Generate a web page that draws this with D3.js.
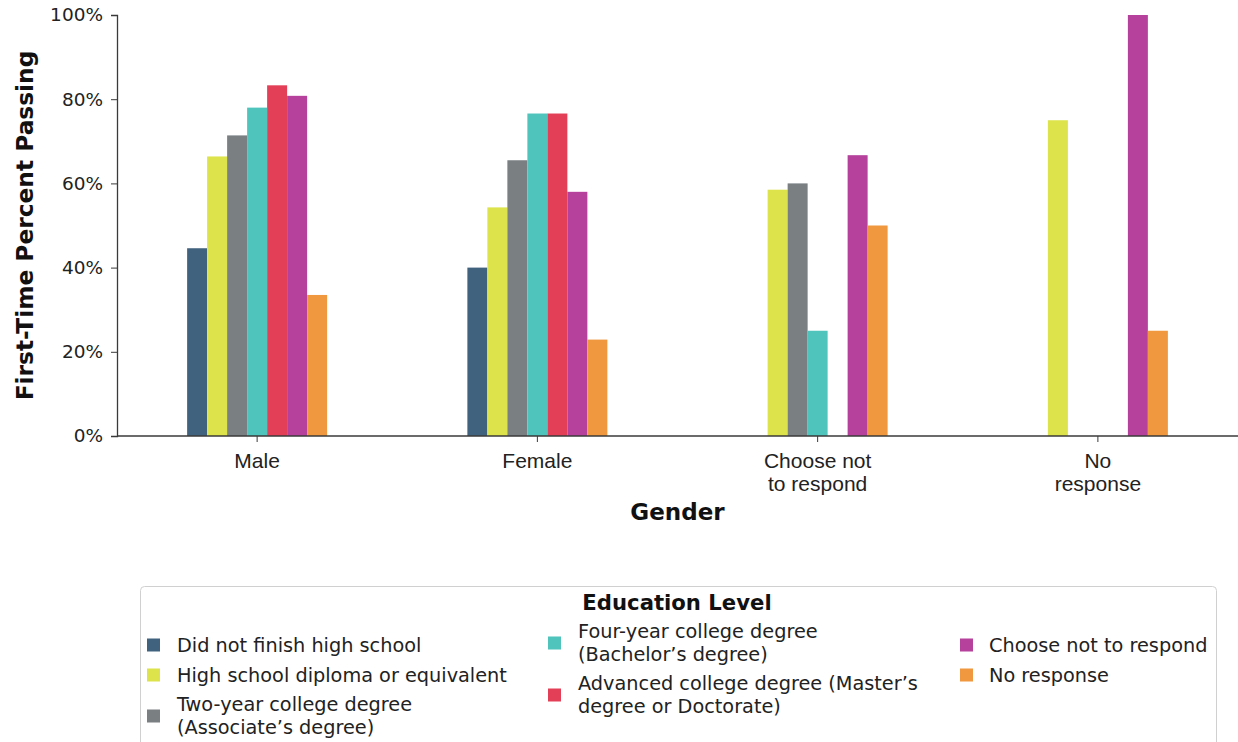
<!DOCTYPE html>
<html>
<head>
<meta charset="utf-8">
<script src="https://cdn.jsdelivr.net/npm/d3@7"></script>
<style>
  html, body { margin: 0; padding: 0; background: #ffffff; }
  svg { display: block; font-family: "DejaVu Sans", sans-serif; }
</style>
</head>
<body>
<svg id="chart" width="1238" height="742"></svg>
<script>
// ---- Data ----
const categories = ["Male", "Female", "Choose not to respond", "No response"];
const categoryLabels = [["Male"], ["Female"], ["Choose not", "to respond"], ["No", "response"]];
const seriesNames = [
  "Did not finish high school",
  "High school diploma or equivalent",
  "Two-year college degree (Associate’s degree)",
  "Four-year college degree (Bachelor’s degree)",
  "Advanced college degree (Master’s degree or Doctorate)",
  "Choose not to respond",
  "No response"
];
const didNotFinish   = [44.6, 40.0, null, null];
const highSchool     = [66.4, 54.3, 58.5, 75.0];
const twoYear        = [71.4, 65.5, 60.0, null];
const fourYear       = [78.0, 76.6, 25.0, null];
const advanced       = [83.3, 76.6, null, null];
const chooseNot      = [80.8, 58.0, 66.7, 100.0];
const noResponse     = [33.5, 22.9, 50.0, 25.0];
const seriesValues = [didNotFinish, highSchool, twoYear, fourYear, advanced, chooseNot, noResponse];
const yTicks = [0, 20, 40, 60, 80, 100];
const legendLines = [
  ["Did not finish high school"],
  ["High school diploma or equivalent"],
  ["Two-year college degree", "(Associate’s degree)"],
  ["Four-year college degree", "(Bachelor’s degree)"],
  ["Advanced college degree (Master’s", "degree or Doctorate)"],
  ["Choose not to respond"],
  ["No response"]
];
const colors = ["#41627f", "#dde34b", "#7a7f82", "#4ec4bc", "#e34058", "#b6419c", "#f0983f"];

// ---- Layout ----
const svg = d3.select("#chart");
const plotLeft = 117, plotRight = 1238, plotTop = 15, plotBottom = 436;
const axisColor = "#3a3a3a";

const x0 = d3.scaleBand().domain(categories).range([plotLeft, plotRight]).padding(0);
const groupWidth = 140;
const x1 = d3.scaleBand().domain(seriesNames).range([-groupWidth / 2, groupWidth / 2]).padding(0);
const y = d3.scaleLinear().domain([0, 100]).range([plotBottom, plotTop]);
const color = d3.scaleOrdinal().domain(seriesNames).range(colors);

// Bars
const barData = [];
seriesNames.forEach((s, si) => {
  categories.forEach((c, ci) => {
    const v = seriesValues[si][ci];
    if (v !== null) barData.push({ s, c, v });
  });
});
svg.append("g").selectAll("rect").data(barData).join("rect")
  .attr("x", d => x0(d.c) + x0.bandwidth() / 2 + x1(d.s))
  .attr("width", x1.bandwidth())
  .attr("y", d => y(d.v))
  .attr("height", d => y(0) - y(d.v))
  .attr("fill", d => color(d.s));

// Y axis
const yAxis = d3.axisLeft(y).tickValues(yTicks).tickFormat(d => d + "%").tickSize(6).tickPadding(8);
const gy = svg.append("g").attr("transform", `translate(${plotLeft},0)`).call(yAxis);
gy.select(".domain").attr("stroke", axisColor).attr("stroke-width", 1.3);
gy.selectAll(".tick line").attr("stroke", axisColor);
gy.selectAll(".tick text").attr("fill", "#222").style("font-size", "18.5px").style("font-family", "DejaVu Sans");

// X axis
const xAxis = d3.axisBottom(x0).tickSize(6).tickFormat("");
const gx = svg.append("g").attr("transform", `translate(0,${plotBottom})`).call(xAxis);
gx.select(".domain").attr("stroke", axisColor).attr("stroke-width", 1.3).attr("d", `M${plotLeft},0H${plotRight}`);
gx.selectAll(".tick line").attr("stroke", axisColor);
gx.selectAll(".tick").each(function(d, i) {
  const t = d3.select(this).append("text")
    .attr("fill", "#222")
    .attr("text-anchor", "middle")
    .style("font-size", "21px");
  categoryLabels[i].forEach((line, li) => {
    t.append("tspan").attr("x", 0).attr("y", 31.5 + li * 23).text(line);
  });
});

// Axis titles
svg.append("text")
  .attr("transform", `translate(33,${(plotTop + plotBottom) / 2}) rotate(-90)`)
  .attr("text-anchor", "middle")
  .style("font-size", "23.3px").style("font-weight", "bold").attr("fill", "#111")
  .text("First-Time Percent Passing");
svg.append("text")
  .attr("x", (plotLeft + plotRight) / 2).attr("y", 520)
  .attr("text-anchor", "middle")
  .style("font-size", "23px").style("font-weight", "bold").attr("fill", "#111")
  .text("Gender");

// Legend
const lg = svg.append("g");
lg.append("rect")
  .attr("x", 140.5).attr("y", 586.5).attr("width", 1076).attr("height", 170)
  .attr("rx", 4).attr("fill", "#fff").attr("stroke", "#d0d0d0").attr("stroke-width", 1);
lg.append("text")
  .attr("x", 677).attr("y", 610)
  .attr("text-anchor", "middle")
  .style("font-size", "21.2px").style("font-weight", "bold").attr("fill", "#111")
  .text("Education Level");

const legendPos = [
  { sx: 147, tx: 177, cy: 645 },
  { sx: 147, tx: 177, cy: 675 },
  { sx: 147, tx: 177, cy: 716 },
  { sx: 548, tx: 578, cy: 643 },
  { sx: 548, tx: 578, cy: 695 },
  { sx: 960, tx: 989, cy: 645 },
  { sx: 960, tx: 989, cy: 675 }
];
seriesNames.forEach((s, i) => {
  const p = legendPos[i];
  lg.append("rect").attr("x", p.sx).attr("y", p.cy - 6.5).attr("width", 13).attr("height", 13).attr("fill", color(s));
  const lines = legendLines[i];
  const t = lg.append("text").attr("fill", "#222").style("font-size", "19.3px");
  const startY = p.cy - (lines.length - 1) * 23 / 2 + 6.5;
  lines.forEach((line, li) => {
    t.append("tspan").attr("x", p.tx).attr("y", startY + li * 23).text(line);
  });
});
</script>
</body>
</html>
